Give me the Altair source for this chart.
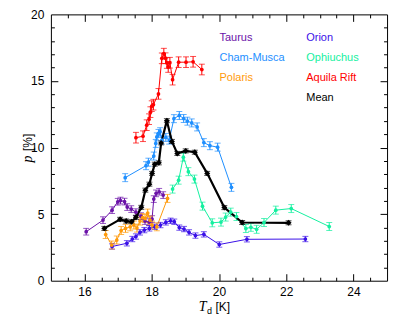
import altair as alt
import pandas as pd

# ---------------- data ----------------
series_names = ["Taurus", "Orion", "Cham-Musca", "Ophiuchus", "Polaris", "Aquila Rift", "Mean"]
series_colors = ["#6b12a8", "#3a10e8", "#1e8fff", "#14f0a0", "#ff9a0a", "#ff0000", "#000000"]
series_err = [0.25, 0.2, 0.3, 0.3, 0.3, 0.4, 0.15]

taurus_T = [16.05, 16.55, 16.82, 16.99, 17.07, 17.19, 17.27, 17.39, 17.53, 17.68, 17.80, 17.92, 18.01, 18.06, 18.13, 18.22, 18.34]
taurus_p = [3.68, 4.55, 5.30, 5.93, 6.02, 5.94, 5.53, 5.38, 5.15, 4.85, 4.48, 4.40, 4.63, 6.13, 6.56, 6.68, 6.43]

orion_T = [16.82, 17.26, 17.42, 17.53, 17.65, 17.78, 17.93, 18.09, 18.26, 18.42, 18.56, 18.67, 18.82, 18.96, 19.11, 19.30, 19.55, 20.01, 20.83, 22.57]
orion_p = [2.57, 2.81, 3.13, 3.32, 3.63, 3.80, 3.93, 4.05, 4.18, 4.38, 4.50, 4.43, 3.99, 3.88, 3.63, 3.39, 3.48, 2.72, 3.11, 3.13]

cham_T = [17.21, 17.83, 17.90, 18.06, 18.12, 18.15, 18.20, 18.25, 18.30, 18.42, 18.52, 18.66, 18.82, 18.95, 19.06, 19.19, 19.35, 19.55, 19.73, 19.96, 20.37]
cham_p = [7.74, 8.64, 8.90, 9.36, 10.31, 10.80, 11.06, 11.19, 10.56, 10.76, 10.56, 12.17, 12.41, 12.18, 11.98, 11.85, 11.55, 10.37, 10.14, 10.03, 7.01]

oph_T = [18.62, 18.80, 18.94, 19.09, 19.27, 19.51, 19.80, 20.06, 20.20, 20.35, 20.52, 20.80, 20.95, 21.12, 21.34, 21.69, 22.15, 23.28]
oph_p = [6.88, 7.55, 9.28, 8.19, 7.63, 5.60, 4.35, 4.40, 4.78, 5.15, 4.82, 3.92, 4.01, 3.86, 4.37, 5.30, 5.42, 4.07]

polaris_T = [16.63, 16.81, 16.96, 17.09, 17.22, 17.36, 17.47, 17.56, 17.65, 17.73, 17.80, 17.88, 17.95, 18.01, 18.15, 18.47]
polaris_p = [3.47, 2.68, 3.05, 3.77, 3.93, 4.05, 4.18, 3.95, 4.48, 4.74, 4.67, 5.08, 4.55, 4.18, 4.05, 6.18]

aquila_T = [17.53, 17.74, 17.85, 17.92, 17.96, 18.00, 18.05, 18.20, 18.30, 18.36, 18.41, 18.45, 18.49, 18.54, 18.62, 18.80, 19.02, 19.23, 19.49]
aquila_p = [10.74, 10.85, 11.68, 12.13, 12.66, 13.11, 13.22, 14.03, 16.70, 17.05, 16.71, 16.35, 16.05, 16.37, 15.10, 16.41, 16.41, 16.44, 15.86]

mean_T = [16.59, 17.06, 17.24, 17.40, 17.53, 17.69, 17.81, 17.93, 18.01, 18.09, 18.21, 18.28, 18.45, 18.60, 18.76, 19.01, 19.28, 19.65, 20.16, 20.69, 22.07]
mean_p = [3.93, 4.61, 4.48, 4.43, 4.76, 5.51, 6.80, 7.25, 8.06, 8.75, 8.85, 10.35, 12.02, 10.46, 9.56, 9.75, 9.65, 8.06, 5.49, 4.37, 4.35]

x_label_values = [16, 18, 20, 22, 24]
y_label_values = [0, 5, 10, 15, 20]
legend_rows = [["Taurus", "Orion"], ["Cham-Musca", "Ophiuchus"], ["Polaris", "Aquila Rift"], [None, "Mean"]]

series_T = [taurus_T, orion_T, cham_T, oph_T, polaris_T, aquila_T, mean_T]
series_p = [taurus_p, orion_p, cham_p, oph_p, polaris_p, aquila_p, mean_p]

rows = []
for name, err, Ts, ps in zip(series_names, series_err, series_T, series_p):
    for i, (t, p) in enumerate(zip(Ts, ps)):
        rows.append({"series": name, "i": i, "T": t, "p": p, "err": err})
df = pd.DataFrame(rows)

# ---------------- layout ----------------
W, H = 337, 267
FONT = "Liberation Sans"
xs = alt.Scale(domain=[15, 25], nice=False, zero=False)
ys = alt.Scale(domain=[0, 20], nice=False, zero=False)
cs = alt.Scale(domain=series_names, range=series_colors)

minor_x = [15 + 0.5 * k for k in range(1, 20)]
minor_y = list(range(1, 20))
tick_x = {"condition": {"test": "datum.value % 2 === 0", "value": 7}, "value": 3.5}
tick_y = {"condition": {"test": "datum.value % 5 === 0", "value": 7}, "value": 3.5}

ax_lab_x = alt.Axis(orient="bottom", values=x_label_values, ticks=False, domain=False, grid=False,
                    labelFont=FONT, labelFontSize=12, labelColor="black", labelPadding=6, title=None, format="d")
ax_lab_y = alt.Axis(orient="left", values=y_label_values, ticks=False, domain=False, grid=False,
                    labelFont=FONT, labelFontSize=12, labelColor="black", labelPadding=7, title=None, format="d")
ax_in_bottom = alt.Axis(orient="top", offset=-H, values=minor_x, labels=False, domain=False, grid=False,
                        tickSize=tick_x, tickColor="black", tickWidth=1, title=None)
ax_in_top = alt.Axis(orient="bottom", offset=-H, values=minor_x, labels=False, domain=False, grid=False,
                     tickSize=tick_x, tickColor="black", tickWidth=1, title=None)
ax_in_left = alt.Axis(orient="right", offset=-W, values=minor_y, labels=False, domain=False, grid=False,
                      tickSize=tick_y, tickColor="black", tickWidth=1, title=None)
ax_in_right = alt.Axis(orient="left", offset=-W, values=minor_y, labels=False, domain=False, grid=False,
                       tickSize=tick_y, tickColor="black", tickWidth=1, title=None)

base = alt.Chart(df)
color = alt.Color("series:N", scale=cs, legend=None)

regions = base.transform_filter("datum.series !== 'Mean'")
mean = base.transform_filter("datum.series === 'Mean'")

lines = regions.mark_line(strokeWidth=1).encode(
    x=alt.X("T:Q", scale=xs, axis=ax_lab_x),
    y=alt.Y("p:Q", scale=ys, axis=ax_lab_y),
    color=color, detail="series:N", order="i:Q")

mean_line = mean.mark_line(strokeWidth=2.2, color="black").encode(
    x=alt.X("T:Q", scale=xs, axis=None),
    y=alt.Y("p:Q", scale=ys, axis=None),
    order="i:Q")

bars = base.transform_calculate(lo="datum.p - datum.err", hi="datum.p + datum.err").mark_rule(strokeWidth=1).encode(
    x=alt.X("T:Q", scale=xs, axis=ax_in_bottom),
    y=alt.Y("lo:Q", scale=ys, axis=ax_in_left),
    y2="hi:Q",
    color=color)

caps = base.transform_calculate(lo="datum.p - datum.err", hi="datum.p + datum.err").transform_fold(
    ["lo", "hi"], as_=["end", "py"]).mark_tick(orient="horizontal", size=6, thickness=1).encode(
    x=alt.X("T:Q", scale=xs, axis=ax_in_top),
    y=alt.Y("py:Q", scale=ys, axis=ax_in_right),
    color=color)

pts = regions.mark_point(filled=True, size=14, opacity=1, shape="circle").encode(
    x=alt.X("T:Q", scale=xs, axis=None),
    y=alt.Y("p:Q", scale=ys, axis=None),
    color=color)

mean_pts = mean.mark_point(filled=True, size=36, opacity=1, shape="diamond", color="black").encode(
    x=alt.X("T:Q", scale=xs, axis=None),
    y=alt.Y("p:Q", scale=ys, axis=None))

layers = [lines, bars, caps, mean_line, pts, mean_pts]

# legend as coloured text
for r, row in enumerate(legend_rows):
    for c, name in enumerate(row):
        if name is None:
            continue
        col = series_colors[series_names.index(name)]
        layers.append(alt.Chart(pd.DataFrame({"t": [name]})).mark_text(
            align="left", baseline="middle", font=FONT, fontSize=11, color=col).encode(
            text="t:N", x=alt.value(169 + 87 * c), y=alt.value(24 + 20 * r)))

# axis titles
def txt(s, x, y, **kw):
    return alt.Chart(pd.DataFrame({"t": [s]})).mark_text(**kw).encode(
        text="t:N", x=alt.value(x), y=alt.value(y))

layers += [
    txt("T", 152, 297, align="center", baseline="alphabetic", font="Liberation Serif", fontStyle="italic", fontSize=14, color="black"),
    txt("d", 156.5, 300, align="left", baseline="alphabetic", font=FONT, fontSize=9, color="black"),
    txt("[K]", 165, 297, align="left", baseline="alphabetic", font=FONT, fontSize=12, color="black"),
    txt("p", -19, 145, align="center", baseline="alphabetic", font="Liberation Serif", fontStyle="italic", fontSize=14, color="black", angle=270),
    txt("[%]", -19, 137, align="left", baseline="alphabetic", font=FONT, fontSize=12, color="black", angle=270),
]

chart = alt.layer(*layers).resolve_axis(x="independent", y="independent").properties(
    width=W, height=H,
    autosize=alt.AutoSizeParams(type="none"),
    padding={"left": 43, "top": 6, "right": 20, "bottom": 44},
).configure_view(stroke="black", strokeWidth=1)

chart.save("out.html", embed_options={"renderer": "svg", "actions": False})
